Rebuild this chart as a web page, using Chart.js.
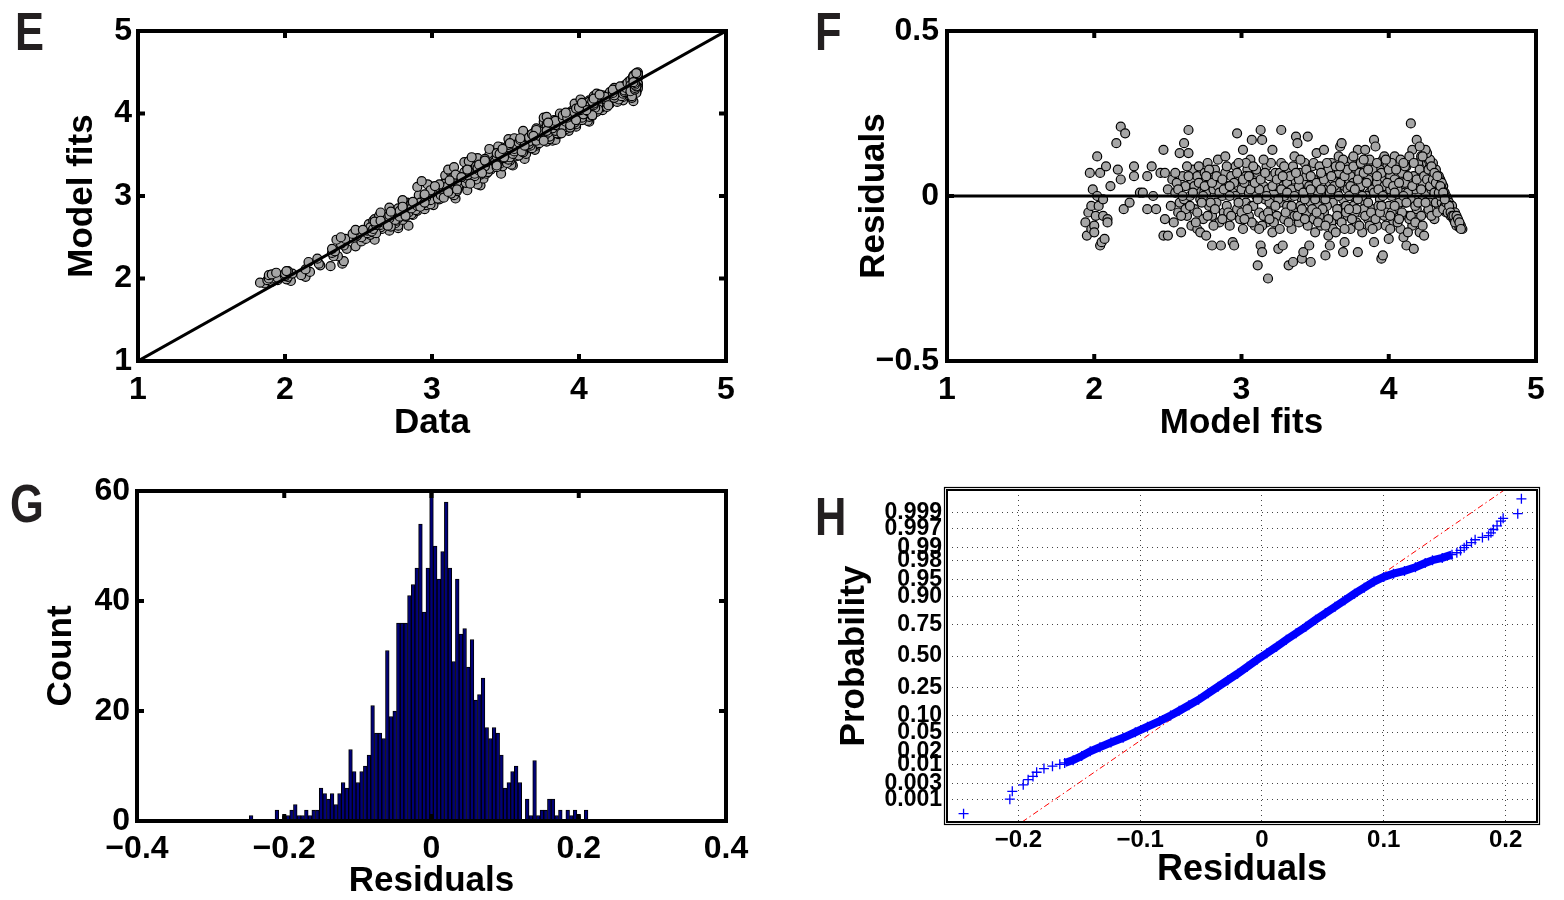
<!DOCTYPE html>
<html>
<head>
<meta charset="utf-8">
<script src="https://cdn.jsdelivr.net/npm/chart.js@4.4.1/dist/chart.umd.min.js"></script>
<style>
  body { margin: 0; background: #fff; }
  #page { position: relative; width: 1564px; height: 900px; overflow: hidden; }
  canvas { position: absolute; }
  .panel-letter {
    position: absolute; font-family: 'Liberation Sans', Arial, sans-serif; font-weight: bold;
    font-size: 53px; line-height: 53px; color: #231f20; transform: scaleX(0.82); transform-origin: left top;
  }
</style>
</head>
<body>
<div id="page">
  <div class="panel-letter" style="left:15px;top:5px">E</div>
  <div class="panel-letter" style="left:815px;top:5px">F</div>
  <div class="panel-letter" style="left:10px;top:477px">G</div>
  <div class="panel-letter" style="left:815px;top:490px">H</div>
  <canvas id="chartE" width="780" height="450" style="left:0;top:0"></canvas>
  <canvas id="chartF" width="782" height="450" style="left:782px;top:0"></canvas>
  <canvas id="chartG" width="780" height="450" style="left:0;top:450px"></canvas>
  <canvas id="chartH" width="782" height="450" style="left:782px;top:450px"></canvas>
</div>
<script>
// ---- data ----

// panel F: [model fit, residual]; panel E is built from the same pairs (data = fit + residual)
const residualPoints = [
  [1.94,-0.08],[1.95,-0.12],[1.96,-0.05],[1.97,0.07],[1.98,-0.03],[1.98,-0.10],[1.99,0.02],[2.00,-0.09],[2.00,-0.11],[2.01,-0.06],
  [2.02,0.12],[2.02,0.00],[2.03,-0.03],[2.04,0.07],[2.04,-0.15],[2.05,-0.14],[2.06,-0.01],[2.06,-0.06],[2.07,-0.13],[2.08,0.09],
  [2.09,-0.07],[2.09,-0.08],[2.11,0.03],[2.15,0.16],[2.16,0.08],[2.18,0.21],[2.18,0.05],[2.20,-0.04],[2.21,0.19],[2.24,-0.02],
  [2.27,0.09],[2.27,0.06],[2.31,0.01],[2.33,0.01],[2.36,-0.04],[2.36,0.06],[2.39,0.09],[2.40,0.00],[2.42,-0.04],[2.45,0.07],
  [2.47,-0.12],[2.47,0.14],[2.48,0.07],[2.48,-0.07],[2.50,-0.12],[2.50,0.02],
  [2.52,-0.03],[2.53,0.05],[2.54,-0.08],[2.55,0.01],[2.56,0.04],[2.57,-0.05],[2.58,0.13],[2.58,-0.02],[2.59,-0.11],[2.60,0.06],
  [2.61,0.16],[2.61,-0.01],[2.62,0.03],[2.63,-0.06],[2.64,0.20],[2.64,0.13],[2.65,0.00],[2.66,-0.09],[2.66,0.05],[2.67,0.08],
  [2.68,-0.04],[2.69,0.02],[2.70,-0.10],[2.70,0.06],[2.71,0.09],[2.72,-0.11],[2.72,-0.01],[2.73,0.04],[2.74,-0.07],[2.75,0.07],
  [2.76,-0.12],[2.76,0.01],[2.77,0.10],[2.78,-0.03],[2.79,0.05],[2.80,-0.15],[2.80,-0.06],[2.81,0.02],[2.82,0.08],[2.83,-0.02],
  [2.84,0.11],[2.85,-0.08],[2.86,-0.15],[2.86,0.04],[2.87,0.00],[2.88,-0.05],[2.89,0.12],[2.89,0.07],[2.90,-0.03],[2.91,0.03],
  [2.92,-0.09],[2.93,0.06],[2.94,-0.14],[2.94,0.01],[2.95,-0.15],[2.96,0.09],[2.97,0.19],[2.97,-0.04],[2.98,0.05],[2.99,-0.07],
  [3.00,0.02],[3.01,0.14],[3.01,-0.10],
  [3.02,0.04],[3.03,-0.02],[3.04,0.08],[3.05,-0.06],[3.05,0.01],[3.06,0.11],[3.07,0.17],[3.07,-0.03],[3.08,0.05],[3.09,-0.09],
  [3.10,0.00],[3.11,-0.21],[3.11,0.07],[3.12,-0.05],[3.13,0.20],[3.13,-0.15],[3.14,0.17],[3.14,-0.17],[3.15,0.03],[3.16,-0.01],
  [3.17,0.09],[3.17,-0.08],[3.18,-0.25],[3.18,0.02],[3.19,0.06],[3.20,-0.04],[3.21,0.14],[3.21,-0.11],[3.22,0.01],[3.23,0.07],
  [3.24,-0.06],[3.25,-0.16],[3.25,0.04],[3.26,-0.02],[3.27,0.20],[3.27,0.10],[3.28,-0.15],[3.28,0.03],[3.29,-0.07],[3.30,0.06],
  [3.31,-0.03],[3.32,-0.21],[3.32,0.08],[3.33,0.00],[3.34,-0.10],[3.35,-0.20],[3.35,0.05],[3.36,0.12],[3.37,0.18],[3.37,-0.04],
  [3.38,0.16],[3.38,0.02],[3.39,-0.08],[3.40,0.07],[3.41,-0.19],[3.41,-0.01],[3.42,-0.17],[3.42,0.04],[3.43,0.10],[3.44,-0.05],
  [3.45,0.18],[3.45,0.01],[3.46,-0.15],[3.46,0.06],[3.47,-0.20],[3.47,-0.02],[3.48,0.09],[3.49,-0.07],[3.50,0.03],[3.50,-0.11],
  [3.51,0.13],[3.52,-0.03],[3.53,0.05],[3.54,-0.09],[3.55,0.00],[3.56,0.14],[3.56,-0.05],[3.57,-0.18],[3.57,0.07],[3.58,0.02],
  [3.59,-0.12],[3.60,-0.15],[3.60,0.04],[3.61,0.10],[3.62,-0.02],[3.63,0.08],[3.64,-0.07],[3.65,0.01],[3.66,0.12],[3.67,0.15],
  [3.67,-0.04],[3.68,0.16],[3.68,0.06],[3.69,-0.17],[3.69,-0.01],[3.70,-0.14],[3.70,0.03],[3.71,0.09],[3.72,-0.06],[3.73,0.05],
  [3.74,-0.10],[3.75,0.11],[3.75,0.00],[3.76,-0.03],[3.77,0.07],[3.78,-0.08],[3.79,0.14],[3.79,-0.17],[3.80,0.02],[3.81,-0.05],
  [3.82,-0.11],[3.82,0.08],[3.83,0.04],[3.84,0.14],[3.84,-0.02],[3.85,0.10],[3.86,-0.07],[3.87,0.01],[3.88,0.06],[3.89,-0.04],
  [3.90,0.17],[3.90,-0.14],[3.91,0.15],[3.91,0.03],[3.92,-0.09],[3.93,0.07],[3.94,-0.01],[3.95,-0.19],[3.95,0.05],[3.96,-0.18],
  [3.96,0.11],[3.97,-0.06],[3.98,0.02],[3.99,0.09],[4.00,-0.13],[4.00,-0.03],
  [4.01,0.06],[4.02,0.00],[4.03,-0.08],[4.04,0.12],[4.05,0.03],[4.06,-0.04],[4.07,0.08],[4.08,-0.10],[4.09,0.01],[4.10,-0.125],
  [4.10,0.05],[4.11,-0.02],[4.12,-0.15],[4.12,0.09],[4.13,-0.06],[4.14,0.04],[4.15,0.22],[4.15,-0.01],[4.16,0.14],[4.16,-0.09],
  [4.17,-0.16],[4.17,0.06],[4.18,0.02],[4.19,0.17],[4.19,-0.04],[4.20,0.10],[4.21,-0.11],[4.21,0.03],[4.22,0.12],[4.23,-0.01],
  [4.24,0.12],[4.24,-0.12],[4.25,0.07],[4.26,0.10],[4.26,-0.05],[4.27,0.04],[4.28,0.09],[4.28,-0.02],[4.29,0.06],[4.30,0.08],
  [4.31,-0.07],[4.32,0.07],[4.33,0.05],[4.33,0.02],[4.34,-0.03],[4.35,0.05],[4.36,0.03],[4.37,0.03],[4.37,-0.01],[4.38,0.01],
  [4.39,0.00],[4.40,-0.01],[4.40,-0.03],[4.41,-0.02],[4.42,-0.03],[4.43,-0.03],[4.43,-0.05],[4.44,-0.05],[4.45,-0.06],[4.45,-0.05],
  [4.46,-0.07],[4.46,-0.08],[4.47,-0.08],[4.47,-0.09],[4.48,-0.09],[4.49,-0.09],[4.50,-0.10],
  [2.62,-0.04],[2.68,0.03],[2.74,0.00],[2.79,-0.02],[2.84,0.03],[2.91,-0.05],[2.96,0.00],[3.03,0.06],[3.08,-0.03],[3.12,0.02],
  [3.15,-0.06],[3.19,-0.02],[3.23,0.03],[3.26,0.07],[3.29,0.00],[3.31,0.04],[3.34,0.02],[3.36,-0.06],[3.39,0.03],[3.40,-0.03],
  [3.43,-0.01],[3.44,0.06],[3.48,0.01],[3.49,0.05],[3.52,0.01],[3.53,-0.06],[3.55,0.06],[3.58,-0.03],[3.59,0.08],[3.61,-0.08],
  [3.62,0.05],[3.64,0.02],[3.65,-0.04],[3.66,0.07],[3.71,-0.03],[3.72,0.02],[3.74,0.06],[3.76,0.04],[3.77,-0.05],[3.78,0.01],
  [3.80,0.07],[3.81,0.03],[3.83,-0.04],[3.85,0.00],[3.86,0.05],[3.87,-0.09],[3.88,0.10],[3.89,0.02],[3.92,0.04],[3.93,-0.03],
  [3.94,0.08],[3.97,0.03],[3.98,-0.05],[4.01,0.02],[4.02,-0.05],[4.04,0.05],[4.06,0.02],[4.07,-0.02],[4.09,0.07],[4.11,0.04],
  [4.13,0.01],[4.14,-0.07],[4.18,-0.03],[4.20,0.05],[4.22,-0.06],[4.23,0.04],[4.25,0.01],[4.27,-0.04],[4.29,0.02],[4.31,0.04],
  [4.32,-0.02],[4.34,0.03],[4.36,-0.02],[4.38,-0.03],[4.39,-0.05],[4.41,-0.04],[4.42,-0.06],[4.44,-0.07],[4.46,-0.09],[4.48,-0.095],
  [2.55,0.07],[2.57,0.02],[2.59,-0.06],[2.60,0.00],[2.63,0.09],[2.65,-0.03],[2.67,0.01],[2.69,-0.08],[2.71,0.04],[2.73,-0.02],
  [2.75,0.03],[2.77,-0.06],[2.78,0.08],[2.80,0.04],[2.82,-0.04],[2.83,0.06],[2.85,0.01],[2.87,-0.07],[2.88,0.02],[2.90,0.09],
  [2.92,0.00],[2.93,-0.06],[2.95,0.04],[2.97,0.07],[2.98,-0.02],[3.00,-0.05],[3.01,0.05],[3.03,0.10],[3.04,-0.04],[3.06,0.02],
  [3.07,-0.08],[3.09,0.04],[3.10,0.08],[3.11,-0.01],[3.13,0.05],[3.14,-0.09],[3.16,0.07],[3.17,0.00],[3.18,-0.05],[3.20,0.10],
  [3.21,0.03],[3.22,-0.08],[3.24,0.05],[3.25,-0.01],[3.26,-0.10],[3.27,0.02],[3.29,0.09],[3.30,-0.05],[3.31,0.01],[3.33,0.06],
  [3.34,-0.03],[3.35,0.09],[3.36,0.00],[3.38,-0.06],[3.39,0.05],[3.40,0.11],[3.41,-0.04],[3.42,0.01],[3.44,0.08],[3.45,-0.09],
  [3.46,0.03],[3.47,0.06],[3.48,-0.04],[3.49,0.10],[3.50,-0.01],[3.51,0.04],[3.52,-0.08],[3.53,0.09],[3.54,0.02],[3.55,-0.04],
  [3.56,0.05],[3.57,-0.01],[3.58,0.10],[3.59,-0.07],[3.60,0.01],[3.61,0.06],[3.62,-0.10],[3.63,0.03],[3.64,0.09],[3.65,-0.06],
  [3.66,0.00],[3.67,0.04],[3.68,-0.08],[3.69,0.11],[3.70,0.06],[3.71,-0.05],[3.72,0.08],[3.73,0.00],[3.74,0.03],[3.75,-0.07],
  [3.76,0.09],[3.77,0.02],[3.78,-0.04],[3.79,0.05],[3.80,-0.09],[3.81,0.10],[3.82,0.00],[3.83,0.07],[3.84,-0.06],[3.85,0.04],
  [3.86,-0.02],[3.87,0.11],[3.88,-0.05],[3.89,0.08],[3.90,0.01],[3.91,-0.07],[3.92,0.10],[3.93,0.02],[3.94,-0.05],[3.95,0.07],
  [3.96,0.00],[3.97,0.12],[3.98,-0.09],[3.99,0.04],[4.00,0.08],[4.01,-0.06],[4.02,0.10],[4.03,0.03],[4.04,-0.03],[4.05,0.08],
  [4.06,-0.08],[4.07,0.04],[4.08,0.11],[4.09,-0.05],[4.10,0.00],[4.11,0.09],[4.12,-0.02],[4.13,0.06],[4.14,0.12],[4.15,-0.06],
  [4.16,0.03],[4.17,0.10],[4.18,-0.08],[4.19,0.05],[4.20,-0.02],[4.21,0.08],[4.22,0.02],[4.23,-0.09],[4.24,0.06],[4.25,-0.02],
  [4.26,0.05],[4.27,0.11],[4.28,0.03],[4.29,-0.06],[4.30,0.05],[4.31,0.01],[4.32,0.04],[4.33,-0.05],[4.34,0.06],[4.35,0.00],
  [4.36,0.02],[4.37,-0.04],[4.38,0.00],[4.39,-0.02],[4.40,-0.05],[4.41,-0.03],[4.42,-0.05],[4.43,-0.06],[4.44,-0.06],[4.45,-0.08],
  [4.46,-0.06],[4.47,-0.07],[4.48,-0.08],[4.49,-0.10],[4.34,0.01],[4.36,0.04],[4.32,0.08],[4.30,0.10],[4.28,0.11],[4.26,0.13],
  [4.25,0.14],[4.23,0.12],[4.21,0.15],[4.27,0.08],[4.29,0.09],[4.31,0.07],[4.33,0.06],[4.35,0.03],[4.37,0.01],[4.38,-0.01],
  [2.64,0.06],[2.70,-0.05],[2.76,0.06],[2.81,-0.09],[2.87,0.05],[2.92,0.03],[2.98,0.10],[3.02,-0.07],[3.05,0.06],[3.08,0.09],
  [3.12,-0.10],[3.15,0.11],[3.19,-0.07],[3.23,-0.03],[3.28,0.06],[3.32,-0.08],[3.37,0.07],[3.43,-0.07],[3.47,0.02],[3.51,-0.05],
  [3.54,0.07],[3.57,-0.09],[3.61,0.02],[3.64,-0.11],[3.67,0.09],[3.70,-0.10],[3.73,-0.04],[3.76,0.12],[3.79,-0.01],[3.83,0.11],
  [3.86,0.08],[3.89,-0.10],[3.92,0.06],[3.95,-0.03],[3.98,0.11],[4.01,-0.10],[4.04,0.01],[4.07,-0.07],[4.10,0.10],[4.13,-0.11]
];

// panel G: histogram of residuals, bins of 0.005 starting at -0.245
const histFirstCenter = -0.245;
const histBinWidth = 0.005;
const histCounts = [
  1, 0, 0, 0, 0, 0, 0,
  2, 0, 1, 1, 2, 3, 1, 1, 2, 1, 2, 2, 6, 5, 4, 5, 3, 5, 7, 6, 13, 9, 7, 9, 10, 12, 21, 16, 16, 15, 31, 19, 20, 36, 36, 36, 41, 43, 46, 54, 38, 46,
  60,
  50, 44, 49, 58, 46, 29, 44, 34, 35, 28, 33, 22, 23, 26, 17, 15, 17, 16, 12, 6, 7, 9, 10, 7, 0, 4, 1, 11, 1, 2, 2, 4, 4, 1, 2, 0, 2, 1, 2, 1, 0, 2
];

// panel H: normal probability plot, [residual, normal quantile]
const hLowTail = [
  [-0.245,-3.39],[-0.207,-3.08],[-0.205,-2.91],[-0.196,-2.77],[-0.192,-2.66],[-0.188,-2.59],[-0.185,-2.50],
  [-0.179,-2.42],[-0.172,-2.37],[-0.166,-2.33]
];
const hCore = [
  [-0.162,-2.30],[-0.155,-2.24],[-0.148,-2.15],[-0.141,-2.05],[-0.133,-1.96],[-0.124,-1.86],[-0.114,-1.76],[-0.104,-1.64],
  [-0.094,-1.52],[-0.084,-1.40],[-0.075,-1.28],[-0.068,-1.18],[-0.060,-1.06],[-0.052,-0.94],[-0.044,-0.80],[-0.036,-0.66],
  [-0.028,-0.52],[-0.020,-0.38],[-0.012,-0.23],[-0.004,-0.08],[0.004,0.06],[0.012,0.20],[0.020,0.35],[0.028,0.49],
  [0.036,0.63],[0.044,0.78],[0.052,0.92],[0.060,1.06],[0.068,1.20],[0.076,1.34],[0.084,1.47],[0.092,1.60],
  [0.100,1.70],[0.108,1.77],[0.117,1.83],[0.126,1.91],[0.134,2.00],[0.140,2.06],[0.148,2.11],[0.156,2.18]
];
const hHighTail = [
  [0.160,2.22],[0.163,2.27],[0.166,2.33],[0.168,2.38],[0.172,2.44],[0.175,2.50],[0.181,2.55],[0.186,2.59],
  [0.188,2.65],[0.190,2.72],[0.193,2.80],[0.196,2.90],[0.198,2.96],[0.210,3.06],[0.213,3.38]
];
const hRefLine = [[-0.197,-3.57],[0.199,3.57]];

// tick labels
const fitTicks = [1, 2, 3, 4, 5];
const residTicks = [-0.5, 0, 0.5];
const histTicksX = [-0.4, -0.2, 0, 0.2, 0.4];
const histTicksY = [0, 20, 40, 60];
const hTicksX = [-0.2, -0.1, 0, 0.1, 0.2];
const hProbTicks = [0.001, 0.003, 0.01, 0.02, 0.05, 0.10, 0.25, 0.50, 0.75, 0.90, 0.95, 0.98, 0.99, 0.997, 0.999];
const hProbLabels = ['0.001', '0.003', '0.01', '0.02', '0.05', '0.10', '0.25', '0.50', '0.75', '0.90', '0.95', '0.98', '0.99', '0.997', '0.999'];

// ---- helpers ----

const FONT = "'Liberation Sans', Arial, sans-serif";

// inverse normal cdf (Acklam) - places probability ticks on the z axis
function normInv(p) {
  const a = [-3.969683028665376e+01, 2.209460984245205e+02, -2.759285104469687e+02, 1.383577518672690e+02, -3.066479806614716e+01, 2.506628277459239e+00];
  const b = [-5.447609879822406e+01, 1.615858368580409e+02, -1.556989798598866e+02, 6.680131188771972e+01, -1.328068155288572e+01];
  const c = [-7.784894002430293e-03, -3.223964580411365e-01, -2.400758277161838e+00, -2.549732539343734e+00, 4.374664141464968e+00, 2.938163982698783e+00];
  const d = [7.784695709041462e-03, 3.224671290700398e-01, 2.445134137142996e+00, 3.754408661907416e+00];
  const lo = 0.02425;
  if (p < lo) {
    const q = Math.sqrt(-2 * Math.log(p));
    return (((((c[0]*q+c[1])*q+c[2])*q+c[3])*q+c[4])*q+c[5]) / ((((d[0]*q+d[1])*q+d[2])*q+d[3])*q+1);
  }
  if (p > 1 - lo) {
    const q = Math.sqrt(-2 * Math.log(1 - p));
    return -(((((c[0]*q+c[1])*q+c[2])*q+c[3])*q+c[4])*q+c[5]) / ((((d[0]*q+d[1])*q+d[2])*q+d[3])*q+1);
  }
  const q = p - 0.5, r = q * q;
  return (((((a[0]*r+a[1])*r+a[2])*r+a[3])*r+a[4])*r+a[5])*q / (((((b[0]*r+b[1])*r+b[2])*r+b[3])*r+b[4])*r+1);
}

function fmt(v) {
  if (v === 0) return '0';
  return (v < 0 ? '\u2212' : '') + String(Math.abs(v));
}

const toXY = (pairs) => pairs.map(([x, y]) => ({ x, y }));

// matlab-like box with inward tick marks
const boxFrame = {
  id: 'boxFrame',
  afterDatasetsDraw(chart, args, o) {
    const { ctx, chartArea: a } = chart;
    ctx.save();
    ctx.strokeStyle = '#000';
    ctx.lineWidth = o.width;
    ctx.strokeRect(a.left, a.top, a.right - a.left, a.bottom - a.top);
    if (o.outer) {
      ctx.lineWidth = 1.2;
      ctx.strokeRect(a.left - o.outer, a.top - o.outer, a.right - a.left + 2 * o.outer, a.bottom - a.top + 2 * o.outer);
    }
    if (o.tick) {
      ctx.lineWidth = o.width;
      const xs = chart.scales.x, ys = chart.scales.y;
      xs.ticks.forEach(t => {
        const px = xs.getPixelForValue(t.value);
        if (px <= a.left + 2 || px >= a.right - 2) return;
        ctx.beginPath();
        ctx.moveTo(px, a.bottom); ctx.lineTo(px, a.bottom - o.tick);
        ctx.moveTo(px, a.top); ctx.lineTo(px, a.top + o.tick);
        ctx.stroke();
      });
      ys.ticks.forEach(t => {
        const py = ys.getPixelForValue(t.value);
        if (py <= a.top + 2 || py >= a.bottom - 2) return;
        ctx.beginPath();
        ctx.moveTo(a.left, py); ctx.lineTo(a.left + o.tick, py);
        ctx.moveTo(a.right, py); ctx.lineTo(a.right - o.tick, py);
        ctx.stroke();
      });
    }
    ctx.restore();
  }
};

// builds an axis pair whose plot area lands exactly on the wanted rectangle
function axes(cfg) {
  const mk = (ax) => ({
    type: 'linear',
    min: ax.min, max: ax.max,
    offset: false,
    grid: ax.grid ? { display: true, drawTicks: false, color: '#444', lineWidth: 1 } : { display: false, drawTicks: false },
    border: { display: false, dash: [1, 4] },
    afterBuildTicks: (s) => { s.ticks = ax.ticks.map(v => ({ value: v })); },
    ticks: {
      autoSkip: false, maxRotation: 0, padding: ax.tickPad, color: '#000',
      font: { family: FONT, size: ax.tickSize, weight: 'bold', lineHeight: 1 },
      callback: ax.labels ? ((v, i) => ax.labels[i]) : ((v) => fmt(v))
    },
    title: {
      display: true, text: ax.title, color: '#000',
      font: { family: FONT, size: ax.titleSize, weight: 'bold', lineHeight: 1 },
      padding: ax.titlePad
    },
    afterFit: (s) => { if (ax.width !== undefined) s.width = ax.width; if (ax.height !== undefined) s.height = ax.height; }
  });
  return { x: mk(cfg.x), y: mk(cfg.y) };
}

function baseOptions(scales, padding, frame) {
  return {
    responsive: false, animation: false, devicePixelRatio: 1, events: [],
    layout: { padding, autoPadding: false },
    plugins: { legend: { display: false }, tooltip: { enabled: false }, boxFrame: frame },
    scales
  };
}

const dotStyle = {
  pointRadius: 4.5, pointBackgroundColor: '#a6a6a6', pointBorderColor: '#000', pointBorderWidth: 1.2,
  showLine: false
};

// ---- E: model fits vs data ----
new Chart(document.getElementById('chartE'), {
  type: 'scatter',
  data: {
    datasets: [
      { data: [{ x: 1, y: 1 }, { x: 5, y: 5 }], showLine: true, borderColor: '#000', borderWidth: 3, pointRadius: 0 },
      { data: residualPoints.map(([f, r]) => ({ x: +(f + r).toFixed(3), y: f })), ...dotStyle }
    ]
  },
  options: baseOptions(axes({
    x: { min: 1, max: 5, ticks: fitTicks, title: 'Data', tickSize: 32, tickPad: 13, titleSize: 35, titlePad: { top: 0, bottom: 9 }, height: 89 },
    y: { min: 1, max: 5, ticks: fitTicks, title: 'Model fits', tickSize: 32, tickPad: 6, titleSize: 35, titlePad: { top: 65, bottom: 0 }, width: 138 }
  }), { left: 0, top: 31, right: 54, bottom: 0 }, { width: 4, tick: 7 }),
  plugins: [boxFrame]
});

// ---- F: residuals vs model fits ----
new Chart(document.getElementById('chartF'), {
  type: 'scatter',
  data: {
    datasets: [
      { data: [{ x: 1, y: 0 }, { x: 5, y: 0 }], showLine: true, borderColor: '#000', borderWidth: 3, pointRadius: 0 },
      { data: toXY(residualPoints), ...dotStyle }
    ]
  },
  options: baseOptions(axes({
    x: { min: 1, max: 5, ticks: fitTicks, title: 'Model fits', tickSize: 32, tickPad: 13, titleSize: 35, titlePad: { top: 0, bottom: 9 }, height: 89 },
    y: { min: -0.5, max: 0.5, ticks: residTicks, title: 'Residuals', tickSize: 32, tickPad: 8, titleSize: 35, titlePad: { top: 75, bottom: 0 }, width: 165 }
  }), { left: 0, top: 31, right: 28, bottom: 0 }, { width: 4, tick: 7 }),
  plugins: [boxFrame]
});

// ---- G: histogram of residuals ----
new Chart(document.getElementById('chartG'), {
  type: 'bar',
  data: {
    datasets: [{
      data: histCounts.map((c, i) => ({ x: +(histFirstCenter + i * histBinWidth).toFixed(4), y: c })),
      backgroundColor: '#000078', borderColor: '#000', borderWidth: 1,
      barPercentage: 1, categoryPercentage: 1
    }]
  },
  options: baseOptions(axes({
    x: { min: -0.4, max: 0.4, ticks: histTicksX, title: 'Residuals', tickSize: 32, tickPad: 12, titleSize: 35, titlePad: { top: 0, bottom: 1 }, height: 79 },
    y: { min: 0, max: 60, ticks: histTicksY, title: 'Count', tickSize: 32, tickPad: 7, titleSize: 35, titlePad: { top: 44, bottom: 0 }, width: 137 }
  }), { left: 0, top: 41, right: 54, bottom: 0 }, { width: 4, tick: 7 }),
  plugins: [boxFrame]
});

// ---- H: normal probability plot ----
const crossStyle = { pointStyle: 'cross', pointRadius: 5, pointBorderColor: '#0000ff', pointBorderWidth: 1.3 };
new Chart(document.getElementById('chartH'), {
  type: 'scatter',
  data: {
    datasets: [
      { data: toXY(hLowTail), ...crossStyle, showLine: false },
      { data: toXY(hCore), ...crossStyle, showLine: true, borderColor: '#0000ff', borderWidth: 8 },
      { data: toXY(hHighTail), ...crossStyle, showLine: false },
      { data: toXY(hRefLine), showLine: true, borderColor: '#ff0000', borderWidth: 1, borderDash: [6, 3, 1.5, 3], pointRadius: 0 }
    ]
  },
  options: baseOptions(axes({
    x: { min: -0.2586, max: 0.2258, ticks: hTicksX, grid: true, title: 'Residuals', tickSize: 24, tickPad: 6, titleSize: 36, titlePad: { top: 0, bottom: 12 }, height: 78 },
    y: { min: -3.57, max: 3.57, ticks: hProbTicks.map(normInv), labels: hProbLabels, grid: true, title: 'Probability', tickSize: 23, tickPad: 5, titleSize: 35, titlePad: { top: 55, bottom: 0 }, width: 165 }
  }), { left: 0, top: 40, right: 27, bottom: 0 }, { width: 2, outer: 2.5, tick: 0 }),
  plugins: [boxFrame]
});
</script>
</body>
</html>
